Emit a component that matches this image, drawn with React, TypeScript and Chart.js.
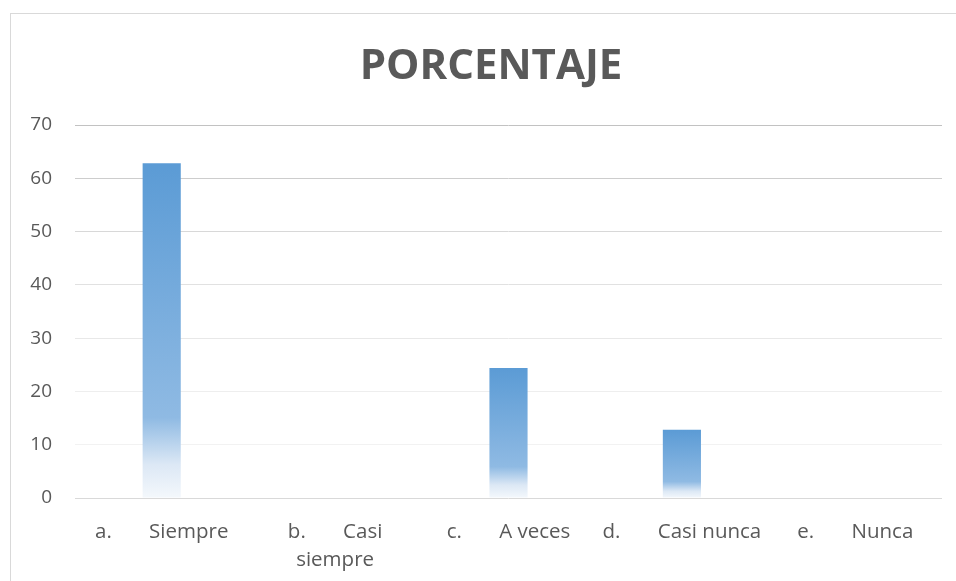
import React, { useEffect, useRef } from "react";
import { Chart, registerables } from "chart.js";

Chart.register(...registerables);

const chartTitle = "PORCENTAJE";
const categories: string[][] = [
  ["a.       Siempre"],
  ["b.       Casi", "siempre"],
  ["c.       A veces"],
  ["d.       Casi nunca"],
  ["e.       Nunca"],
];
const percentages = [62.8, 0, 24.4, 12.8, 0];
const yMin = 0;
const yMax = 70;
const yStep = 10;
// grid line colours from the 0 line up to the 70 line
const gridColors = ["#d9d9d9", "#f2f2f2", "#eeeeee", "#e8e8e8", "#e1e1e1", "#d8d8d8", "#cdcdcd", "#c2c2c2"];

const TEXT = "#595959";
const FONT = "'Open Sans', 'Noto Sans', sans-serif";

export default function App() {
  const ref = useRef<HTMLCanvasElement | null>(null);

  useEffect(() => {
    if (!ref.current) return;
    const chart = new Chart(ref.current, {
      type: "bar",
      data: {
        labels: categories,
        datasets: [
          {
            label: chartTitle,
            data: percentages,
            yAxisID: "y",
            barPercentage: 0.22,
            categoryPercentage: 1,
            borderWidth: 0,
            backgroundColor: (ctx: any) => {
              const c = ctx.chart;
              if (!c.chartArea || ctx.type !== "data") return "#5b9bd5";
              const y = c.scales.y;
              const top = y.getPixelForValue(ctx.raw);
              const bottom = y.getPixelForValue(0);
              if (bottom - top < 1) return "rgba(0,0,0,0)";
              const g = c.ctx.createLinearGradient(0, top, 0, bottom);
              g.addColorStop(0, "#5b9bd5");
              g.addColorStop(0.76, "#8fbae3");
              g.addColorStop(0.9, "#dce8f5");
              g.addColorStop(1, "#f4f8fc");
              return g;
            },
          },
        ],
      },
      options: {
        responsive: false,
        animation: false,
        layout: { padding: 0 },
        plugins: {
          legend: { display: false },
          tooltip: { enabled: false },
          title: {
            display: true,
            text: chartTitle,
            color: TEXT,
            font: { family: FONT, size: 42, weight: "bold", lineHeight: 1.2 },
            padding: { top: 28, bottom: 32.6 },
          },
        },
        scales: {
          x: {
            grid: { display: false },
            border: { display: false },
            ticks: {
              color: TEXT,
              font: { family: FONT, size: 20.5, lineHeight: 1.37 },
              padding: 12,
              maxRotation: 0,
              minRotation: 0,
              autoSkip: false,
            },
            afterFit: (s: any) => {
              s.height = 83;
            },
          },
          y: {
            min: yMin,
            max: yMax,
            grid: {
              drawTicks: false,
              color: (ctx: any) => gridColors[ctx.index] ?? "#d9d9d9",
              lineWidth: 1,
            },
            border: { display: false },
            ticks: {
              stepSize: yStep,
              color: TEXT,
              font: { family: FONT, size: 19 },
              padding: 23,
            },
            afterFit: (s: any) => {
              s.width = 64;
            },
          },
          yRight: {
            position: "right",
            display: true,
            grid: { display: false },
            border: { display: false },
            ticks: { display: false },
            afterFit: (s: any) => {
              s.width = 29;
            },
          },
        },
      },
    });
    return () => chart.destroy();
  }, []);

  return (
    <div
      style={{
        position: "fixed",
        left: 0,
        top: 0,
        width: 956,
        height: 581,
        overflow: "hidden",
        background: "#ffffff",
      }}
    >
      <div
        style={{
          position: "absolute",
          left: 10,
          top: 13,
          width: 1000,
          height: 1000,
          border: "1px solid #d9d9d9",
          boxSizing: "border-box",
        }}
      />
      <canvas
        ref={ref}
        width={960}
        height={567}
        style={{ position: "absolute", left: 11, top: 14, width: 960, height: 567 }}
      />
    </div>
  );
}
